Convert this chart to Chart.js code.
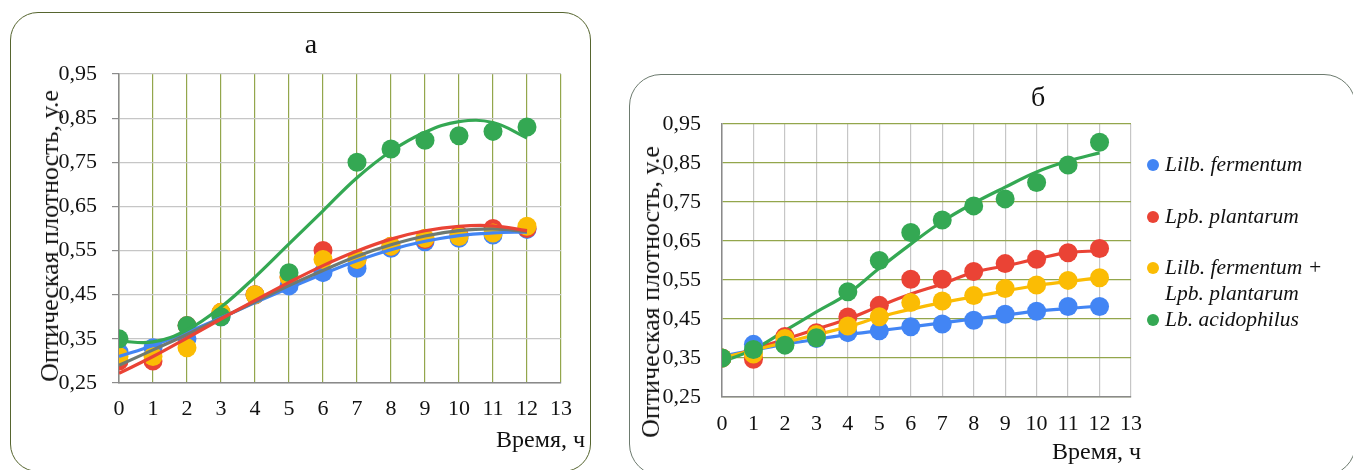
<!DOCTYPE html>
<html>
<head>
<meta charset="utf-8">
<script src="https://cdn.jsdelivr.net/npm/chart.js@4.4.1/dist/chart.umd.min.js"></script>
<style>
  html, body { margin:0; padding:0; background:#fff; width:1353px; height:470px; overflow:hidden; }
  .box { position:absolute; box-sizing:border-box; }
  .cv { position:absolute; }
  .txt { position:absolute; font-family:'Liberation Serif', serif; color:#111; white-space:nowrap; }
  .rot { transform: translate(-50%,-50%) rotate(-90deg); }
  .ctr { transform: translate(-50%,-50%); }
  .leg { position:absolute; font-family:'Liberation Serif', serif; font-style:italic; font-size:21.5px; color:#111; white-space:nowrap; line-height:26px; }
  .dot { position:absolute; width:12px; height:12px; border-radius:50%; }
</style>
</head>
<body>
<div class="box" style="left:10px;top:12px;width:581px;height:460px;border:1.5px solid #56652f;border-radius:28px;"></div>
<div class="box" style="left:629px;top:74px;width:727px;height:402px;border:1.5px solid #6d7b6f;border-radius:32px;"></div>

<canvas id="cA" class="cv" style="left:0;top:0" width="600" height="470"></canvas>
<canvas id="cB" class="cv" style="left:620px;top:70px" width="733" height="400"></canvas>

<div class="txt ctr" style="left:311px;top:44px;font-size:28px;">а</div>
<div class="txt ctr" style="left:1038px;top:97px;font-size:28px;">б</div>
<div class="txt" style="right:768px;top:426px;font-size:24px;">Время, ч</div>
<div class="txt" style="right:212px;top:438px;font-size:24px;">Время, ч</div>
<div class="txt rot" style="left:50px;top:236px;font-size:26px;">Оптическая плотность, у.е</div>
<div class="txt rot" style="left:651px;top:292px;font-size:26px;">Оптическая плотность, у.е</div>
<div id="legend"></div>

<script>
// ---------- data ----------
const hours = [0,1,2,3,4,5,6,7,8,9,10,11,12];
const xTickValues = [0,1,2,3,4,5,6,7,8,9,10,11,12,13];
const yTickValues = [0.25,0.35,0.45,0.55,0.65,0.75,0.85,0.95];
const yTickLabels = ['0,25','0,35','0,45','0,55','0,65','0,75','0,85','0,95'];
const seriesNames = ['Lilb. fermentum','Lpb. plantarum','Lilb. fermentum +\nLpb. plantarum','Lb. acidophilus'];

// chart а (points)
const fermA   = [0.32,0.33,0.35,0.40,0.45,0.47,0.50,0.51,0.555,0.57,0.578,0.585,0.598];
const plantA  = [0.30,0.30,0.38,0.41,0.45,0.49,0.55,0.53,0.56,0.575,0.585,0.60,0.60];
const mixA    = [0.31,0.31,0.33,0.41,0.45,0.49,0.53,0.53,0.56,0.578,0.582,0.59,0.605];
const acidA   = [0.35,null,0.38,0.40,null,0.50,null,0.75,0.78,0.80,0.81,0.82,0.83];
// chart а (trend lines)
const fermTrendA  = [0.310,0.335,0.365,0.398,0.432,0.465,0.497,0.527,0.552,0.571,0.584,0.590,0.592];
const plantTrendA = [0.272,0.310,0.352,0.395,0.437,0.478,0.516,0.549,0.576,0.595,0.605,0.606,0.595];
const mixTrendA   = [0.290,0.325,0.360,0.397,0.434,0.471,0.505,0.537,0.563,0.583,0.595,0.599,0.593];
const acidTrendA  = [0.345,0.343,0.370,0.422,0.490,0.565,0.640,0.715,0.775,0.818,0.842,0.840,0.805];

// chart б (points)
const fermB   = [0.35,0.385,0.39,0.40,0.415,0.42,0.43,0.437,0.447,0.462,0.47,0.482,0.482];
const plantB  = [0.35,0.347,0.405,0.415,0.455,0.485,0.552,0.552,0.572,0.592,0.603,0.62,0.631];
const mixB    = [0.35,0.36,0.40,0.41,0.432,0.456,0.492,0.496,0.51,0.528,0.537,0.549,0.556];
const acidB   = [0.35,0.372,0.383,0.402,0.52,0.60,0.672,0.704,0.74,0.758,0.80,0.845,0.903];
// chart б (trend lines)
const fermTrendB  = [0.355,0.370,0.385,0.398,0.410,0.420,0.430,0.440,0.450,0.460,0.470,0.477,0.483];
const plantTrendB = [0.345,0.373,0.398,0.424,0.450,0.483,0.514,0.540,0.570,0.586,0.604,0.620,0.625];
const mixTrendB   = [0.350,0.370,0.390,0.410,0.430,0.455,0.475,0.492,0.507,0.522,0.536,0.546,0.556];
const acidTrendB  = [0.340,0.372,0.420,0.468,0.515,0.580,0.642,0.700,0.747,0.788,0.827,0.855,0.876];

// ---------- styles ----------
const C_BLUE='#4285F4', C_RED='#EA4335', C_YEL='#FBBC04', C_GRN='#34A853', C_GREY='#6e7a72';
const OLIVE='#93a64c', LGREY='#c6c6c6', AXGREY='#8a8a8a';
const FONT = {family:"'Liberation Serif', serif", size:22};

function pts(arr){ return hours.map((x,i)=>({x, y:arr[i]})).filter(p=>p.y!==null); }
function pointSet(arr,color,order){
  return {data:pts(arr), backgroundColor:color, borderColor:color, pointRadius:9.5, pointHoverRadius:9.5, pointBorderWidth:0, showLine:false, order};
}
function lineSet(arr,color,order){
  return {data:pts(arr), borderColor:color, backgroundColor:color, borderWidth:3.2, pointRadius:0, showLine:true, tension:0.4, fill:false, order};
}
function scales(o){
  return {
    x:{type:'linear', min:0, max:13,
       afterBuildTicks:s=>{ s.ticks = xTickValues.map(v=>({value:v})); },
       afterFit:s=>{ s.height = o.xh; },
       ticks:{font:FONT, color:'#111', padding:o.xpad, maxRotation:0, autoSkip:false, callback:v=>String(v)},
       grid:{color:o.xgrid, lineWidth:1.2, drawTicks:false},
       border:{color:AXGREY, width:1.5}},
    y:{type:'linear', min:0.25, max:0.95,
       afterBuildTicks:s=>{ s.ticks = yTickValues.map(v=>({value:v})); },
       afterFit:s=>{ s.width = o.yw; },
       ticks:{font:FONT, color:'#111', padding:o.ypad, autoSkip:false,
              callback:(v)=>{ const i=yTickValues.findIndex(t=>Math.abs(t-v)<1e-6); return i>=0?yTickLabels[i]:''; }},
       grid:{color:o.ygrid, lineWidth:1.2, drawTicks:o.yticks, tickLength:7, tickColor:'#8c8c8c'},
       border:{color:AXGREY, width:1.5}}
  };
}
const common = {responsive:false, animation:false, events:[],
  plugins:{legend:{display:false}, tooltip:{enabled:false}, title:{display:false}}};

new Chart(document.getElementById('cA'), {
  type:'scatter',
  data:{datasets:[
    pointSet(fermA,C_BLUE,8), pointSet(plantA,C_RED,7), pointSet(mixA,C_YEL,6), pointSet(acidA,C_GRN,5),
    lineSet(fermTrendA,C_BLUE,4), lineSet(mixTrendA,C_GREY,3), lineSet(plantTrendA,C_RED,2), lineSet(acidTrendA,C_GRN,1)
  ]},
  options:Object.assign({}, common, {
    layout:{padding:{left:39, right:39, top:74, bottom:0}},
    scales:scales({xh:87, xpad:13, yw:80, ypad:15, xgrid:OLIVE, ygrid:LGREY, yticks:true})
  })
});

new Chart(document.getElementById('cB'), {
  type:'scatter',
  data:{datasets:[
    lineSet(fermTrendB,C_BLUE,8), lineSet(plantTrendB,C_RED,7), lineSet(mixTrendB,C_YEL,6), lineSet(acidTrendB,C_GRN,5),
    pointSet(fermB,C_BLUE,4), pointSet(plantB,C_RED,3), pointSet(mixB,C_YEL,2), pointSet(acidB,C_GRN,1)
  ]},
  options:Object.assign({}, common, {
    layout:{padding:{left:20, right:222, top:54, bottom:0}},
    scales:scales({xh:73, xpad:14, yw:82, ypad:21, xgrid:LGREY, ygrid:OLIVE, yticks:false})
  })
});

// legend (HTML) from series names
const legColors = [C_BLUE, C_RED, C_YEL, C_GRN];
const legTops = [151, 203, 254, 306];
const lg = document.getElementById('legend');
seriesNames.forEach((name,i)=>{
  const d = document.createElement('div'); d.className='dot';
  d.style.left='1147px'; d.style.top=(legTops[i]+8)+'px'; d.style.background=legColors[i];
  lg.appendChild(d);
  const t = document.createElement('div'); t.className='leg';
  t.style.left='1165px'; t.style.top=legTops[i]+'px';
  t.innerHTML = name.split('\n').join('<br>');
  lg.appendChild(t);
});
</script>
</body>
</html>
